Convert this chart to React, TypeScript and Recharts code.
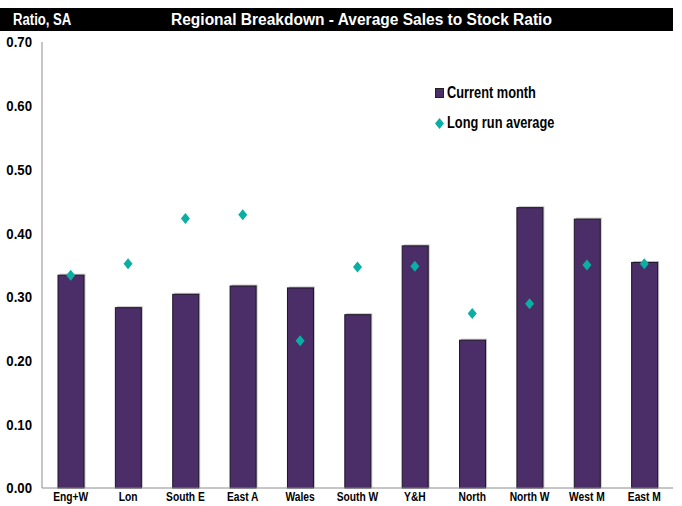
import React from 'react';
import {
  ComposedChart,
  Bar,
  Line,
  XAxis,
  YAxis,
} from 'recharts';

const regions = ['Eng+W', 'Lon', 'South E', 'East A', 'Wales', 'South W', 'Y&H', 'North', 'North W', 'West M', 'East M'];
const currentMonth = [0.334, 0.283, 0.304, 0.317, 0.314, 0.272, 0.380, 0.232, 0.440, 0.422, 0.354];
const longRunAverage = [0.334, 0.352, 0.423, 0.429, 0.231, 0.347, 0.348, 0.274, 0.289, 0.350, 0.352];
const yTicks = [0, 0.1, 0.2, 0.3, 0.4, 0.5, 0.6, 0.7];

const data = regions.map((region, i) => ({
  region,
  current: currentMonth[i],
  lra: longRunAverage[i],
}));

const FONT = '"Liberation Sans", Arial, sans-serif';
const BAR_COLOR = '#4b2e67';
const DOT_COLOR = '#0aaea3';

// bar with a thin dark outline and a soft grey shadow, as in the original
const ShadowBar = (props: any) => {
  const w = Math.abs(Number(props.width) || 0);
  const h = Math.abs(Number(props.height) || 0);
  const x = Math.min(Number(props.x), Number(props.x) + Number(props.width));
  const y = Math.min(Number(props.y), Number(props.y) + Number(props.height));
  if (!(w > 0 && h > 0)) return <g />;
  return (
    <g>
      <rect x={x + 1.5} y={y - 1.5} width={w} height={h + 1.5} fill="#c4c4c4" />
      <rect x={x} y={y} width={w} height={h} fill={BAR_COLOR} stroke="#1c1424" strokeWidth={1} />
    </g>
  );
};

const Diamond = (props: any) => {
  const { cx, cy, index } = props;
  if (cx == null || cy == null) return <g key={index} />;
  const w = 4.5;
  const h = 5.5;
  return (
    <polygon
      key={index}
      points={`${cx},${cy - h} ${cx + w},${cy} ${cx},${cy + h} ${cx - w},${cy}`}
      fill={DOT_COLOR}
    />
  );
};

const XTick = (props: any) => {
  const { x, y, payload } = props;
  return (
    <text
      transform={`translate(${x},${y}) scale(0.82,1)`}
      textAnchor="middle"
      dy="0.71em"
      fill="#000"
      fontSize={12.5}
      fontWeight={700}
      fontFamily={FONT}
    >
      {payload.value}
    </text>
  );
};

const YTick = (props: any) => {
  const { x, y, payload } = props;
  return (
    <text
      transform={`translate(${x},${y}) scale(0.88,1)`}
      textAnchor="end"
      dy="0.36em"
      fill="#000"
      fontSize={15}
      fontWeight={700}
      fontFamily={FONT}
    >
      {Number(payload.value).toFixed(2)}
    </text>
  );
};

const narrow = (k: number): React.CSSProperties => ({
  display: 'inline-block',
  transform: `scaleX(${k})`,
  transformOrigin: 'left center',
  whiteSpace: 'nowrap',
});

export default function App() {
  return (
    <div style={{ position: 'absolute', left: 0, top: 0, width: 682, height: 506, background: '#fff', overflow: 'hidden' }}>
      {/* title bar */}
      <div
        style={{
          position: 'absolute',
          left: 0,
          top: 8,
          width: 673,
          height: 23,
          background: '#000',
          color: '#fff',
          fontFamily: FONT,
          fontWeight: 700,
          fontSize: 16,
          lineHeight: '23px',
        }}
      >
        <span style={{ ...narrow(0.82), position: 'absolute', left: 13 }}>Ratio, SA</span>
        <span style={{ ...narrow(0.97), position: 'absolute', left: 171 }}>Regional Breakdown - Average Sales to Stock Ratio</span>
      </div>

      <ComposedChart
        width={682}
        height={506}
        data={data}
        margin={{ top: 42, right: 9, bottom: 0, left: 0 }}
      >
        <XAxis
          dataKey="region"
          height={18}
          axisLine={{ stroke: '#8c8c8c' }}
          tickLine={false}
          tickSize={0}
          tickMargin={4}
          interval={0}
          tick={<XTick />}
        />
        <YAxis
          domain={[0, 0.7]}
          ticks={yTicks}
          width={42}
          axisLine={{ stroke: '#8c8c8c' }}
          tickLine={false}
          tickSize={0}
          tickMargin={10}
          tick={<YTick />}
        />
        <Bar
          dataKey="current"
          name="Current month"
          fill={BAR_COLOR}
          barSize={26}
          shape={ShadowBar}
          isAnimationActive={false}
        />
        <Line
          dataKey="lra"
          name="Long run average"
          stroke="none"
          dot={Diamond}
          activeDot={false}
          isAnimationActive={false}
        />
      </ComposedChart>

      {/* legend */}
      <div style={{ position: 'absolute', left: 435, top: 83, fontFamily: FONT, fontWeight: 700, fontSize: 16, color: '#000' }}>
        <div style={{ display: 'flex', alignItems: 'center', height: 20 }}>
          <span style={{ width: 7, height: 8, background: BAR_COLOR, border: '1px solid #222', marginRight: 3, flex: 'none' }} />
          <span style={narrow(0.8)}>Current month</span>
        </div>
        <div style={{ display: 'flex', alignItems: 'center', height: 20, marginTop: 10 }}>
          <svg width={9} height={11} style={{ marginRight: 3, flex: 'none' }}>
            <polygon points="4.5,0 9,5.5 4.5,11 0,5.5" fill={DOT_COLOR} />
          </svg>
          <span style={narrow(0.8)}>Long run average</span>
        </div>
      </div>
    </div>
  );
}
